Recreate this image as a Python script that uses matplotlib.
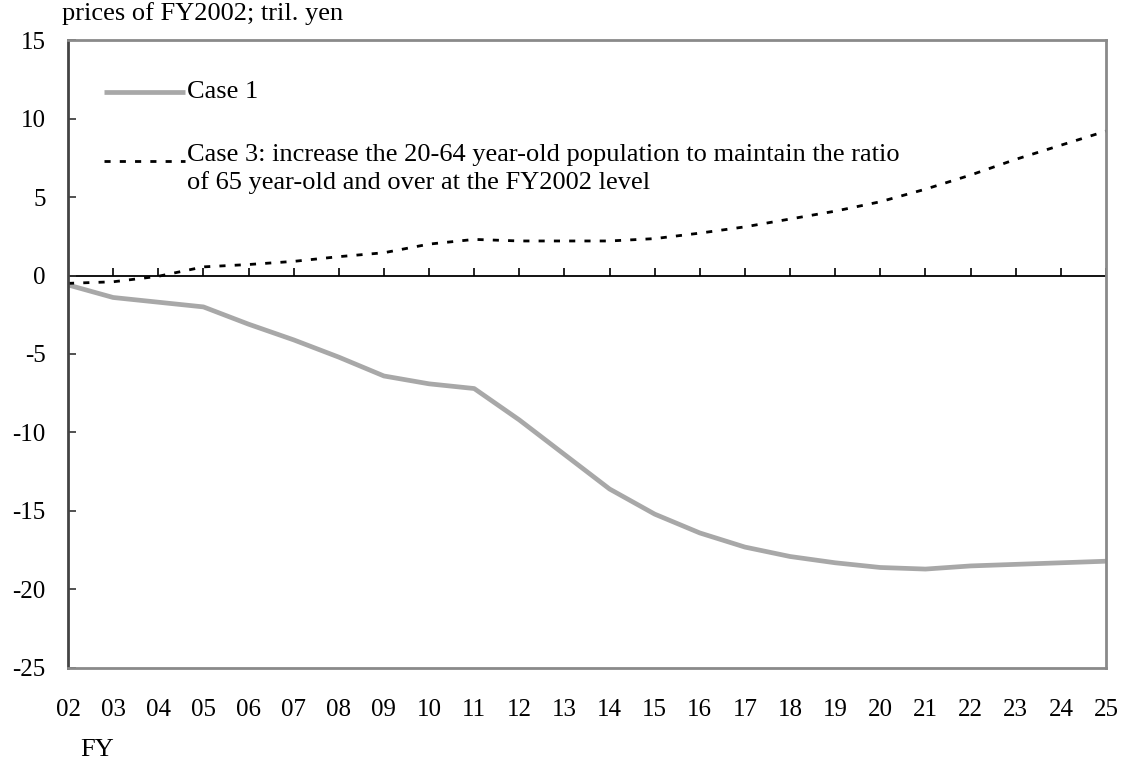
import numpy as np
import matplotlib
matplotlib.use("Agg")
import matplotlib.pyplot as plt

plt.rcParams['font.family'] = ['Liberation Serif', 'DejaVu Serif']
plt.rcParams['axes.unicode_minus'] = False

# fiscal years 2002..2025
years = list(range(2, 26))
year_labels = ["%02d" % y for y in years]

# prices of FY2002; tril. yen
case1 = [-0.6, -1.4, -1.7, -2.0, -3.1, -4.1, -5.2, -6.4, -6.9, -7.2,
         -9.2, -11.4, -13.6, -15.2, -16.4, -17.3, -17.9, -18.3, -18.6, -18.7,
         -18.5, -18.4, -18.3, -18.2]
case3 = [-0.5, -0.4, -0.05, 0.55, 0.7, 0.9, 1.2, 1.45, 2.0, 2.3,
         2.2, 2.2, 2.2, 2.35, 2.7, 3.1, 3.6, 4.1, 4.7, 5.5,
         6.4, 7.4, 8.3, 9.2]

label1 = "Case 1"
label3 = ("Case 3: increase the 20-64 year-old population to maintain the ratio\n"
          "of 65 year-old and over at the FY2002 level")

fs = 19
fig = plt.figure(figsize=(11.24, 7.64), dpi=100)
ax = fig.add_axes([0.0605, 0.1257, 0.9235, 0.8219])

c1_color = "#a8a8a8"
dash = (0, (2.2, 3.3))
ax.plot(years, case1, color=c1_color, linewidth=3.4, solid_capstyle="butt")
ax.plot(years, case3, color="black", linewidth=2, linestyle=dash)

ax.set_xlim(years[0], years[-1])
ax.set_ylim(-25, 15)

# zero line with year ticks pointing up
ax.axhline(0, color="black", linewidth=1.3, zorder=1)
ax.vlines(years, 0, 0.45, color="black", linewidth=1.2)

ax.set_xticks(years)
ax.set_xticklabels(year_labels)
ax.tick_params(axis="x", length=0, pad=22, labelsize=18)
ax.set_yticks(np.arange(-25, 16, 5))
ax.tick_params(axis="y", direction="in", length=6, width=1.2, pad=16,
               labelsize=18, color="#333333")

for side in ["top", "right", "bottom"]:
    ax.spines[side].set_color("#8a8a8a")
    ax.spines[side].set_linewidth(2)
ax.spines["left"].set_color("#444444")
ax.spines["left"].set_linewidth(2)

# legend drawn by hand
ax.plot([0.035, 0.113], [0.918, 0.918], transform=ax.transAxes,
        color=c1_color, linewidth=3.4, solid_capstyle="butt")
ax.text(0.115, 0.918, label1, transform=ax.transAxes, fontsize=fs,
        va="center", ha="left")
ax.plot([0.035, 0.113], [0.808, 0.808], transform=ax.transAxes,
        color="black", linewidth=2, linestyle=dash)
ax.text(0.115, 0.834, label3, transform=ax.transAxes, fontsize=fs,
        va="top", ha="left", linespacing=1.25)

fig.text(0.055, 0.998, "prices of FY2002; tril. yen", fontsize=fs,
         ha="left", va="top")
fig.text(0.071, 0.004, "FY", fontsize=fs, ha="left", va="bottom")

fig.savefig("out.png", dpi=100)
